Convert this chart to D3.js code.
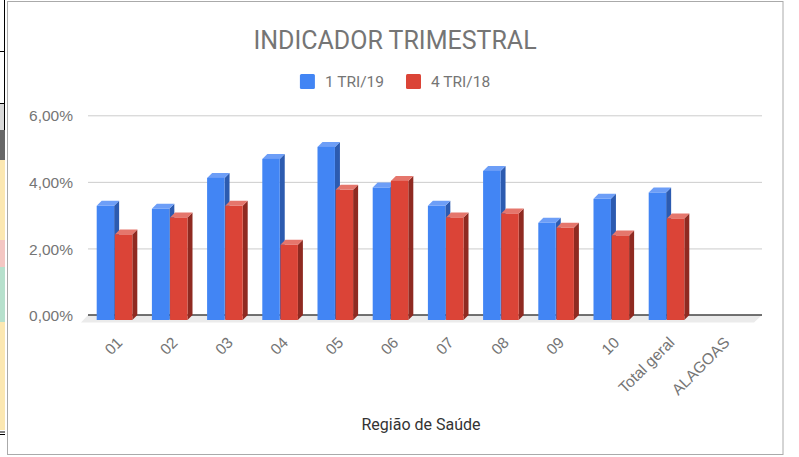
<!DOCTYPE html>
<html>
<head>
<meta charset="utf-8">
<script src="https://cdn.jsdelivr.net/npm/d3@7"></script>
<style>
  html, body { margin: 0; padding: 0; background: #fff; }
  svg { display: block; font-family: Roboto, "Noto Sans", sans-serif; }
  .tick-label { fill: #757575; font-size: 15.5px; }
</style>
</head>
<body>
<svg id="chart" width="799" height="457"></svg>
<script>
// Indicador trimestral por Região de Saúde — 3D-style grouped bars
const categories = ["01", "02", "03", "04", "05", "06", "07", "08", "09", "10", "Total geral", "ALAGOAS"];
const seriesNames = ["1 TRI/19", "4 TRI/18"];
const tri1_19 = [0.0343, 0.0334, 0.0427, 0.0484, 0.0520, 0.0398, 0.0343, 0.0448, 0.0292, 0.0364, 0.0383, null];
const tri4_18 = [0.0257, 0.0308, 0.0343, 0.0226, 0.0391, 0.0418, 0.0308, 0.0320, 0.0277, 0.0254, 0.0305, null];
const yTicks = [0, 0.02, 0.04, 0.06];

const COLORS = [
  { front: "#4285f4", top: "#6d9ef7", side: "#2c5bb0" },
  { front: "#db4437", top: "#e5766c", side: "#8f2a21" },
];
const DEPTH = 5;

const svg = d3.select("#chart");

// spreadsheet fragments peeking at the left edge
const strip = svg.append("g");
[[0, 103, "#fff"], [103, 130, "#d9d9d9"], [130, 160, "#666"], [160, 240, "#fce8b2"],
 [240, 267, "#f4c7c3"], [267, 322, "#b7e1cd"], [322, 430, "#fce8b2"]].forEach(([y0, y1, c]) => {
  strip.append("rect").attr("x", 0).attr("y", y0).attr("width", 5).attr("height", y1 - y0).attr("fill", c);
});
strip.append("line").attr("x1", 4.5).attr("x2", 4.5).attr("y1", 0).attr("y2", 130).attr("stroke", "#000");
strip.append("line").attr("x1", 0).attr("x2", 5).attr("y1", 51.5).attr("y2", 51.5).attr("stroke", "#000");
strip.append("line").attr("x1", 0).attr("x2", 5).attr("y1", 103.5).attr("y2", 103.5).attr("stroke", "#000");
strip.append("line").attr("x1", 0).attr("x2", 5).attr("y1", 432).attr("y2", 432).attr("stroke", "#000");
strip.append("line").attr("x1", 0).attr("x2", 5).attr("y1", 434.5).attr("y2", 434.5).attr("stroke", "#000");

// chart frame
svg.append("rect").attr("x", 7.5).attr("y", 1.5).attr("width", 775.5).attr("height", 453)
  .attr("fill", "#fff").attr("stroke", "#aaa");

const plot = { left: 88, right: 762 };
const y = d3.scaleLinear().domain([0, 0.06]).range([315, 115.3]);
const x = d3.scaleBand().domain(categories).range([91.9, 754.3]).paddingInner(0.355).paddingOuter(0.1775);
const xs = d3.scaleBand().domain(seriesNames).range([0, x.bandwidth()]).paddingInner(0.04);

const pct = d3.formatLocale({ decimal: ",", thousands: ".", grouping: [3], currency: ["R$", ""] }).format(".2%");

// floor
svg.append("polygon")
  .attr("points", [[plot.left, y(0)], [plot.right, y(0)], [plot.right - 8, y(0) + 7.5], [plot.left - 7, y(0) + 7.5]].join(" "))
  .attr("fill", "#ebebeb");

// gridlines
const grid = svg.append("g").attr("transform", `translate(${plot.left},0)`)
  .call(d3.axisLeft(y).tickValues(yTicks.slice(1)).tickSize(-(plot.right - plot.left)).tickFormat(""));
grid.select(".domain").remove();
grid.selectAll("line").attr("stroke", "#cccccc");

// baseline
svg.append("line").attr("x1", plot.left).attr("x2", plot.right).attr("y1", y(0)).attr("y2", y(0))
  .attr("stroke", "#444").attr("stroke-width", 1.5);

// y tick labels
const yAx = svg.append("g").attr("transform", "translate(73,0)")
  .call(d3.axisLeft(y).tickValues(yTicks).tickSize(0).tickPadding(0).tickFormat(pct));
yAx.select(".domain").remove();
yAx.selectAll("text").attr("class", "tick-label").attr("font-family", null).attr("font-size", null).attr("dy", "0.36em");

// bars
const rows = [];
categories.forEach((c, i) => {
  [tri1_19[i], tri4_18[i]].forEach((v, s) => {
    if (v != null) rows.push({ cat: c, s, v });
  });
});

const bars = svg.append("g").selectAll("g.bar").data(rows).join("g").attr("class", "bar");
bars.each(function (d) {
  const g = d3.select(this);
  const w = xs.bandwidth();
  const fx = x(d.cat) + xs(seriesNames[d.s]) - DEPTH;
  const ft = y(d.v) + DEPTH;
  const fb = y(0) + DEPTH;
  const col = COLORS[d.s];
  g.append("polygon")
    .attr("points", [[fx + w, ft], [fx + w + DEPTH, ft - DEPTH], [fx + w + DEPTH, fb - DEPTH], [fx + w, fb]].join(" "))
    .attr("fill", col.side);
  g.append("polygon")
    .attr("points", [[fx, ft], [fx + DEPTH, ft - DEPTH], [fx + w + DEPTH, ft - DEPTH], [fx + w, ft]].join(" "))
    .attr("fill", col.top);
  g.append("rect").attr("x", fx).attr("y", ft).attr("width", w).attr("height", fb - ft).attr("fill", col.front);
});

// x labels, rotated
const xAx = svg.append("g").attr("transform", "translate(0,339.6)")
  .call(d3.axisBottom(x).tickSize(0).tickPadding(0));
xAx.select(".domain").remove();
xAx.selectAll("text")
  .attr("class", "tick-label").attr("font-family", null).attr("font-size", null)
  .attr("y", 0).attr("dy", "0.36em")
  .attr("text-anchor", "end")
  .attr("transform", "rotate(-45)");

// title
svg.append("text").attr("x", 395).attr("y", 49.3).attr("text-anchor", "middle")
  .attr("fill", "#757575").attr("font-size", 25).text("INDICADOR TRIMESTRAL");

// legend, centred on the frame
const legend = svg.append("g");
const items = legend.selectAll("g").data(seriesNames).join("g");
items.append("rect").attr("width", 15).attr("height", 15).attr("rx", 1.5).attr("y", 74)
  .attr("fill", (d, i) => COLORS[i].front);
items.append("text").attr("x", 25).attr("y", 87.2).attr("class", "tick-label").text((d) => d);
let cursor = 0;
const offsets = [];
items.each(function () {
  offsets.push(cursor);
  cursor += 25 + d3.select(this).select("text").node().getComputedTextLength() + 22;
});
const legendW = cursor - 22;
items.attr("transform", (d, i) => `translate(${395 - legendW / 2 + offsets[i]},0)`);

// axis title
svg.append("text").attr("x", 421).attr("y", 430).attr("text-anchor", "middle")
  .attr("fill", "#333").attr("font-size", 16).text("Região de Saúde");
</script>
</body>
</html>
